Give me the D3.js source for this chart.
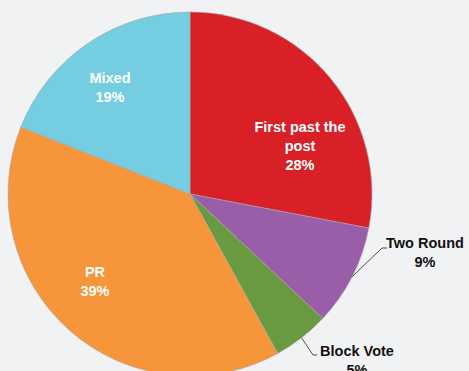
<!DOCTYPE html>
<html>
<head>
<meta charset="utf-8">
<script src="https://cdn.jsdelivr.net/npm/d3@7"></script>
<style>
  html, body { margin: 0; padding: 0; background: #f1f2f4; overflow: hidden; }
  text { font-family: "Liberation Sans", Arial, sans-serif; font-weight: bold; }
</style>
</head>
<body>
<div id="chart"></div>
<script>
const categories = ["First past the post", "Two Round", "Block Vote", "PR", "Mixed"];
const shares = [28, 9, 5, 39, 19];
const colors = ["#d92027", "#9a5ea8", "#6a9a3f", "#f6953a", "#74cde0"];

const width = 469, height = 371;
const cx = 190, cy = 194, radius = 182;

const svg = d3.select("#chart").append("svg")
    .attr("width", width)
    .attr("height", height);

const g = svg.append("g").attr("transform", `translate(${cx},${cy})`);

const data = categories.map((c, i) => ({ name: c, value: shares[i], color: colors[i] }));

const pie = d3.pie().value(d => d.value).sort(null);
const arcs = pie(data);
const arc = d3.arc().innerRadius(0).outerRadius(radius);

g.selectAll("path")
    .data(arcs)
    .enter()
    .append("path")
    .attr("d", arc)
    .attr("fill", d => d.data.color)
    .attr("stroke", "#a8a8a8")
    .attr("stroke-width", 0.6);

// label spots (relative to pie centre), inside for big slices, outside with leader for small ones
const inside = {
    "First past the post": { pos: [110, -48], lines: ["First past the", "post"] },
    "PR": { pos: [-95, 87.5], lines: ["PR"] },
    "Mixed": { pos: [-80, -106.5], lines: ["Mixed"] }
};
const outside = {
    "Two Round": { elbow: [192, 54], end: [197, 54], text: [235, 54] },
    "Block Vote": { elbow: [123, 161], end: [127, 161], text: [167, 162] }
};

arcs.forEach(a => {
    const mid = (a.startAngle + a.endAngle) / 2;
    const name = a.data.name;
    if (inside[name]) {
        const o = inside[name];
        const lines = o.lines.concat([a.data.value + "%"]);
        const t = g.append("text")
            .attr("text-anchor", "middle")
            .style("font-size", "14.5px")
            .style("fill", "#ffffff");
        lines.forEach((l, i) => {
            t.append("tspan")
                .attr("x", o.pos[0])
                .attr("y", o.pos[1] + (i - (lines.length - 1) / 2) * 18.8 + 5)
                .text(l);
        });
    } else {
        const o = outside[name];
        const px = Math.sin(mid) * radius;
        const py = -Math.cos(mid) * radius;
        g.append("polyline")
            .attr("points", [[px, py], o.elbow, o.end].map(p => p.join(",")).join(" "))
            .attr("fill", "none")
            .attr("stroke", "#222")
            .attr("stroke-width", 0.8);
        const t = g.append("text")
            .attr("text-anchor", "middle")
            .style("font-size", "14.5px")
            .style("fill", "#111");
        [name, a.data.value + "%"].forEach((l, i) => {
            t.append("tspan")
                .attr("x", o.text[0])
                .attr("y", o.text[1] + i * 18.5)
                .text(l);
        });
    }
});
</script>
</body>
</html>
